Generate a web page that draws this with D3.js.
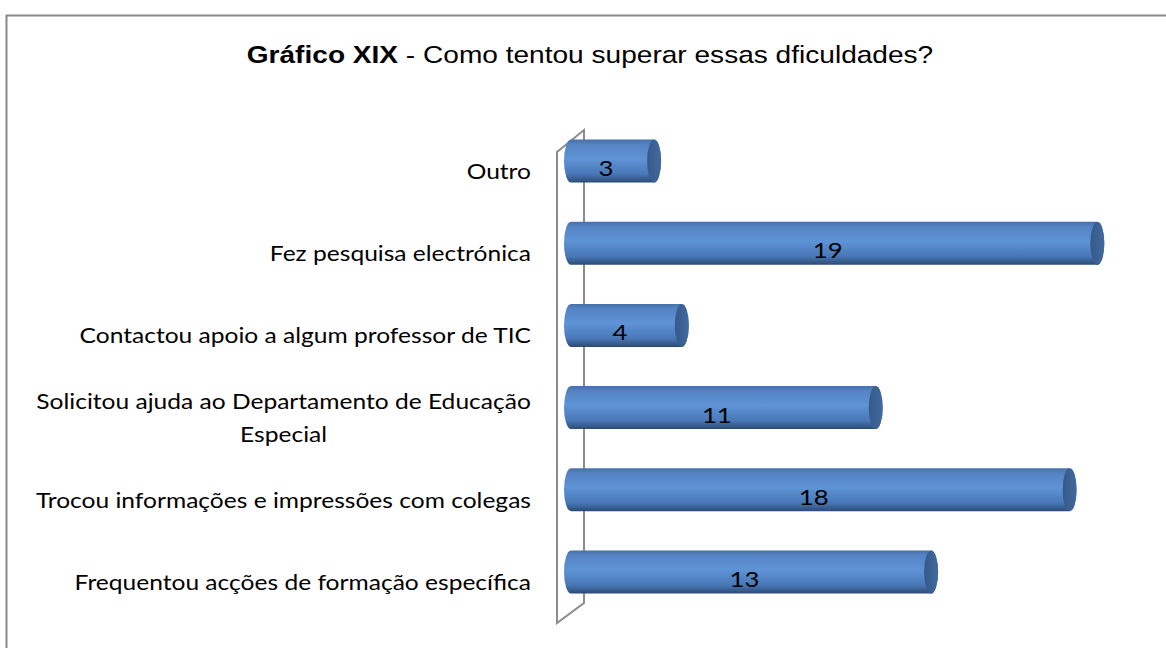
<!DOCTYPE html>
<html>
<head>
<meta charset="utf-8">
<script src="https://cdn.jsdelivr.net/npm/d3@7"></script>
<style>
  body { margin: 0; background: #fff; }
  text { font-family: Lato, "Noto Sans", sans-serif; fill: #000; }
</style>
</head>
<body>
<script>
const categories = [
    'Outro',
    'Fez pesquisa electrónica',
    'Contactou apoio a algum professor de TIC',
    'Solicitou ajuda ao Departamento de Educação\nEspecial',
    'Trocou informações e impressões com colegas',
    'Frequentou acções de formação específica'
]
const values = [3, 19, 4, 11, 18, 13]
const titleBold = 'Gráfico XIX'
const titleRest = ' - Como tentou superar essas dficuldades?'

const m = {
    width: 1166,
    height: 648
}

// the original picture is a bit stretched sideways, so text is too
const stretch = 1.17
function widen(sel, ax) {
    sel.attr('transform', `translate(${ax},0) scale(${stretch},1) translate(${-ax},0)`)
}

const svg = d3.select('body').append('svg')
    .attr('width', m.width)
    .attr('height', m.height)

const defs = svg.append('defs')

const bodyGrad = defs.append('linearGradient')
    .attr('id', 'body')
    .attr('x1', 0).attr('y1', 0).attr('x2', 0).attr('y2', 1)
bodyGrad.selectAll('stop')
    .data([['0%', '#4671aa'], ['12%', '#5584c4'], ['45%', '#5e93d6'], ['80%', '#4978b7'], ['93%', '#365b8d'], ['100%', '#2b4a74']])
    .enter().append('stop')
    .attr('offset', d => d[0])
    .attr('stop-color', d => d[1])

const capGrad = defs.append('linearGradient')
    .attr('id', 'cap')
    .attr('x1', 0).attr('y1', 0).attr('x2', 1).attr('y2', 0)
capGrad.selectAll('stop')
    .data([['0%', '#36598a'], ['100%', '#416a9e']])
    .enter().append('stop')
    .attr('offset', d => d[0])
    .attr('stop-color', d => d[1])

// chart border
svg.append('rect')
    .attr('x', 6.5)
    .attr('y', 15.5)
    .attr('width', 1200)
    .attr('height', 700)
    .attr('fill', 'none')
    .attr('stroke', '#898989')
    .attr('stroke-width', 2)

// title
const title = svg.append('text')
    .attr('x', 590)
    .attr('y', 63)
    .attr('text-anchor', 'middle')
    .style('font-family', '"Liberation Sans", Arial, sans-serif')
    .style('font-size', '24px')
    .call(widen, 590)
title.append('tspan').attr('font-weight', 'bold').text(titleBold)
title.append('tspan').text(titleRest)

const x = d3.scaleLinear()
    .domain([0, 20])
    .range([571, 1125])

const y = d3.scalePoint()
    .domain(categories)
    .range([161, 572])

const barH = 43
const rx = 7
const ry = barH / 2

// 3D wall
const x0 = x(0)
const front = x0 - 14
const back = x0 + 13
const wallTop = y.range()[0] - 31
const wallBot = y.range()[1] + 51
svg.append('path')
    .attr('d', `M${front},${wallTop + 22} L${back},${wallTop} L${back},${wallBot - 20} L${front},${wallBot} Z`)
    .attr('fill', 'none')
    .attr('stroke', '#8c8c8c')
    .attr('stroke-width', 2)

const bars = svg.selectAll('.bar')
    .data(categories)
    .enter()
    .append('g')
    .attr('class', 'bar')

bars.append('path')
    .attr('d', function (d, i) {
        const x1 = x(values[i])
        const t = y(d) - ry
        const b = y(d) + ry
        return `M${x0},${t} L${x1},${t} A${rx},${ry} 0 0 1 ${x1},${b} L${x0},${b} A${rx},${ry} 0 0 1 ${x0},${t} Z`
    })
    .attr('fill', 'url(#body)')

bars.append('ellipse')
    .attr('cx', (d, i) => x(values[i]))
    .attr('cy', d => y(d))
    .attr('rx', rx)
    .attr('ry', ry)
    .attr('fill', 'url(#cap)')

bars.append('text')
    .attr('x', (d, i) => (x0 - rx + x(values[i])) / 2 - 3)
    .attr('y', d => y(d) + 15)
    .attr('text-anchor', 'middle')
    .style('font-size', '22px')
    .text((d, i) => values[i])
    .each(function () {
        d3.select(this).call(widen, +d3.select(this).attr('x'))
    })

// category labels
svg.selectAll('.label')
    .data(categories)
    .enter()
    .append('text')
    .attr('class', 'label')
    .attr('text-anchor', 'end')
    .style('font-size', '21px')
    .each(function (d) {
        const lines = d.split('\n')
        const t = d3.select(this)
        const cy = y(d)
        if (lines.length === 1) {
            t.attr('x', 531).attr('y', cy + 18).text(d)
            t.call(widen, 531)
        } else {
            t.attr('text-anchor', 'middle')
            lines.forEach(function (line, j) {
                t.append('tspan')
                    .attr('x', 0)
                    .attr('y', cy + 1 + j * 33)
                    .text(line)
            })
            // centre the lines on the widest one, right edge at 531
            const w = d3.max(t.selectAll('tspan').nodes(), n => n.getComputedTextLength()) * stretch
            const cx = 531 - w / 2
            t.selectAll('tspan').attr('x', cx)
            t.call(widen, cx)
        }
    })
</script>
</body>
</html>
